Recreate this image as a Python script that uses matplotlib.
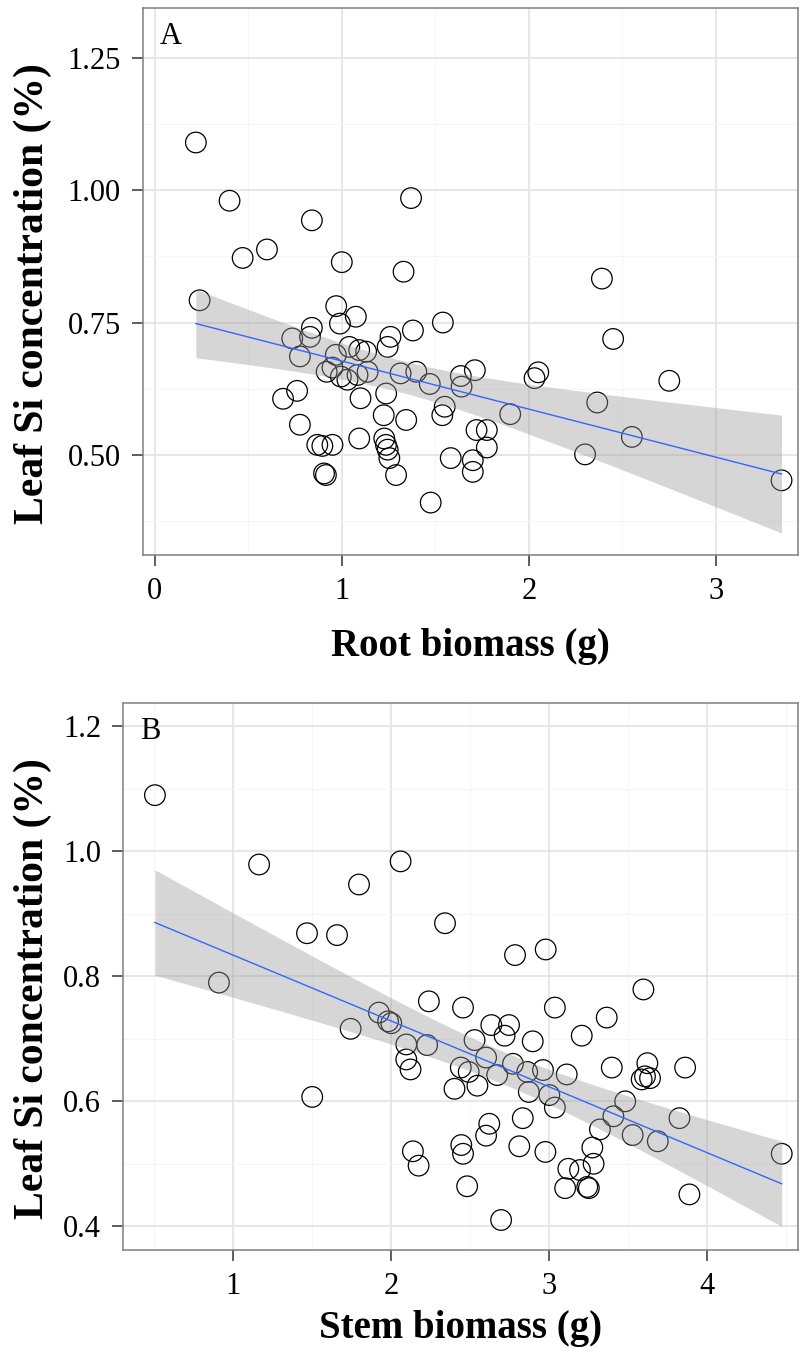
import numpy as np
import matplotlib
matplotlib.use("Agg")
import matplotlib.pyplot as plt
from matplotlib.ticker import MultipleLocator

# panel A: root biomass vs leaf Si
root_biomass = [0.22, 0.40, 0.84, 1.37, 0.47, 0.60, 1.00, 1.33, 2.39, 2.45,
                2.75, 2.365, 2.55, 2.30, 3.35, 1.90, 2.05, 2.03, 0.24, 0.97,
                1.075, 0.99, 0.84, 0.83, 0.735, 0.776, 0.686, 0.761, 0.776, 0.869,
                0.896, 0.95, 0.905, 0.915, 1.093, 1.10, 1.04, 0.968, 0.919, 0.95,
                0.995, 1.03, 1.093, 1.13, 1.084, 1.38, 1.54, 1.26, 1.245, 1.138,
                1.314, 1.398, 1.47, 1.636, 1.711, 1.64, 1.55, 1.537, 1.237, 1.224,
                1.344, 1.227, 1.236, 1.245, 1.254, 1.29, 1.582, 1.72, 1.775, 1.775,
                1.70, 1.70, 1.475]
leaf_si_a = [1.09, 0.98, 0.943, 0.985, 0.872, 0.888, 0.864, 0.846, 0.833, 0.719,
             0.640, 0.599, 0.534, 0.501, 0.452, 0.577, 0.656, 0.645, 0.792, 0.781,
             0.761, 0.748, 0.740, 0.723, 0.72, 0.686, 0.606, 0.621, 0.557, 0.519,
             0.517, 0.519, 0.465, 0.462, 0.531, 0.607, 0.704, 0.689, 0.657, 0.665,
             0.648, 0.642, 0.698, 0.695, 0.651, 0.735, 0.75, 0.723, 0.704, 0.657,
             0.654, 0.657, 0.634, 0.649, 0.66, 0.629, 0.591, 0.575, 0.616, 0.575,
             0.566, 0.531, 0.519, 0.51, 0.494, 0.462, 0.494, 0.547, 0.547, 0.514,
             0.49, 0.468, 0.41]

# panel B: stem biomass vs leaf Si
stem_biomass = [0.505, 1.164, 2.059, 1.796, 1.467, 1.657, 2.34, 0.91, 1.743, 1.922,
                2.0, 1.98, 2.238, 2.095, 2.227, 2.095, 2.122, 1.50, 2.137, 2.173,
                2.44, 2.40, 2.783, 2.977, 2.454, 3.035, 2.633, 2.745, 2.717, 2.527,
                2.895, 2.60, 2.49, 2.545, 2.67, 2.77, 2.86, 2.96, 2.87, 3.0,
                3.035, 3.11, 2.832, 2.62, 2.60, 2.443, 2.454, 2.81, 2.975, 2.48,
                2.695, 3.595, 3.363, 3.205, 3.395, 3.62, 3.859, 3.605, 3.637, 3.584,
                3.48, 3.405, 3.32, 3.527, 3.686, 3.823, 3.272, 3.28, 3.12, 3.194,
                3.10, 3.24, 3.25, 3.886, 4.47]
leaf_si_b = [1.09, 0.979, 0.984, 0.947, 0.869, 0.866, 0.885, 0.79, 0.716, 0.742,
             0.725, 0.728, 0.760, 0.691, 0.69, 0.667, 0.651, 0.607, 0.52, 0.497,
             0.654, 0.62, 0.834, 0.843, 0.75, 0.75, 0.722, 0.722, 0.705, 0.698,
             0.696, 0.670, 0.647, 0.625, 0.642, 0.66, 0.647, 0.65, 0.615, 0.61,
             0.59, 0.643, 0.573, 0.564, 0.545, 0.53, 0.516, 0.528, 0.519, 0.464,
             0.41, 0.779, 0.734, 0.705, 0.654, 0.661, 0.654, 0.64, 0.637, 0.635,
             0.60, 0.576, 0.555, 0.546, 0.536, 0.573, 0.526, 0.50, 0.492, 0.49,
             0.461, 0.463, 0.461, 0.451, 0.516]

plt.rcParams["font.family"] = ["Liberation Serif", "DejaVu Serif"]


def lm_band(x, y, n=80, t=1.99):
    # linear fit with 95% confidence band, like geom_smooth(method="lm")
    x = np.asarray(x)
    y = np.asarray(y)
    slope, inter = np.polyfit(x, y, 1)
    resid = y - (slope * x + inter)
    s = np.sqrt(np.sum(resid ** 2) / (len(x) - 2))
    xs = np.linspace(x.min(), x.max(), n)
    fit = slope * xs + inter
    se = s * np.sqrt(1 / len(x) + (xs - x.mean()) ** 2 / np.sum((x - x.mean()) ** 2))
    return xs, fit, fit - t * se, fit + t * se


def panel(ax, x, y, xlim, ylim, xmaj, ymaj, yfmt, xlabel, tag, xlab_y, ylab_x):
    ax.set_facecolor("white")
    ax.scatter(x, y, s=220, facecolors="none", edgecolors="black", linewidths=0.9, zorder=2)
    xs, fit, lo, hi = lm_band(x, y)
    ax.fill_between(xs, lo, hi, color="#999999", alpha=0.4, linewidth=0, zorder=3)
    ax.plot(xs, fit, color="#3366FF", linewidth=1.0, zorder=4)

    ax.set_xlim(*xlim)
    ax.set_ylim(*ylim)
    ax.xaxis.set_major_locator(MultipleLocator(xmaj))
    ax.xaxis.set_minor_locator(MultipleLocator(xmaj / 2))
    ax.yaxis.set_major_locator(MultipleLocator(ymaj))
    ax.yaxis.set_minor_locator(MultipleLocator(ymaj / 2))
    ax.yaxis.set_major_formatter(plt.FormatStrFormatter(yfmt))
    ax.grid(which="major", color="#E3E3E3", linewidth=1.2, zorder=0)
    ax.grid(which="minor", color="#F5F5F5", linewidth=0.7, zorder=0)
    ax.set_axisbelow(True)
    for sp in ax.spines.values():
        sp.set_color("#7F7F7F")
        sp.set_linewidth(1.1)
    ax.tick_params(which="major", length=8, width=1.1, color="#333333",
                   labelsize=22, pad=8, labelcolor="black")
    ax.tick_params(which="minor", length=0)
    ax.set_xlabel(xlabel, fontsize=28, fontweight="bold")
    ax.set_ylabel("Leaf Si concentration (%)", fontsize=30, fontweight="bold")
    ax.xaxis.set_label_coords(0.5, xlab_y)
    ax.yaxis.set_label_coords(ylab_x, 0.478)
    ax.text(0.025, 0.948, tag, transform=ax.transAxes, fontsize=22,
            ha="left", va="center", zorder=5)


fig = plt.figure(figsize=(8.01, 13.60), dpi=100)

ax_a = fig.add_axes([143 / 801, 1 - 555 / 1360, 655 / 801, 547 / 1360])
panel(ax_a, root_biomass, leaf_si_a, (-0.0625, 3.438), (0.311, 1.344),
      1, 0.25, "%.2f", "Root biomass (g)", "A", -0.133, -0.139)

ax_b = fig.add_axes([123.3 / 801, 1 - 1250 / 1360, 674.7 / 801, 546.7 / 1360])
panel(ax_b, stem_biomass, leaf_si_b, (0.305, 4.573), (0.362, 1.237),
      1, 0.2, "%.1f", "Stem biomass (g)", "B", -0.110, -0.106)

fig.savefig("out.png", dpi=100)
